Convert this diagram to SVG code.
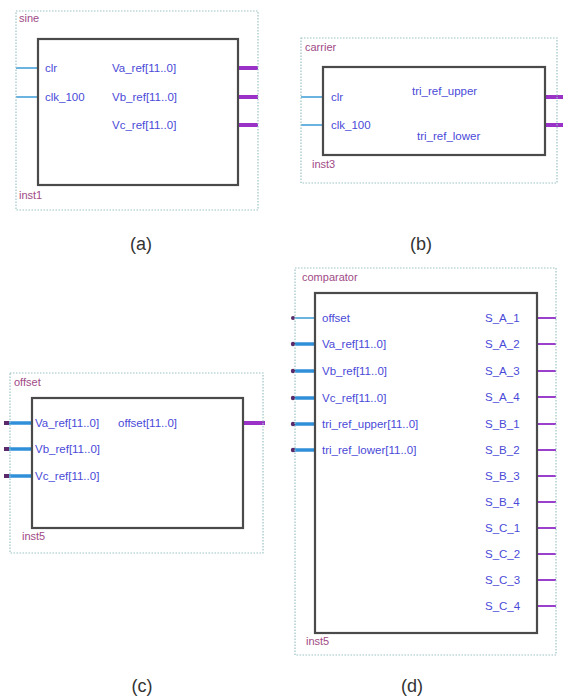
<svg xmlns="http://www.w3.org/2000/svg" width="565" height="696" viewBox="0 0 565 696">
<style>
.frame{fill:none;stroke:#9cc4c4;stroke-width:1.2;stroke-dasharray:1.5 1.5}
.box{fill:#fff;stroke:#4a4a4a;stroke-width:2.2}
.title{font-family:"Liberation Sans",Arial,sans-serif;font-size:11px;fill:#a04a86}
.pin{font-family:"Liberation Sans",Arial,sans-serif;font-size:11.5px;fill:#4a4ad8}
.cap{font-family:"Liberation Sans",Arial,sans-serif;font-size:18px;fill:#333;text-anchor:middle}
.in{stroke:#3a9ad6;stroke-width:1.5}
.inbus{stroke:#2f8fd8;stroke-width:3.5}
.outbus{stroke:#9a32c8;stroke-width:4}
.out{stroke:#9a40cc;stroke-width:2}
.dot{fill:#5a2a6a}
</style>
<rect width="565" height="696" fill="#fff"/>

<g id="connectors">
  <!-- sine -->
  <line class="in" x1="16" y1="68" x2="38" y2="68"/>
  <line class="in" x1="16" y1="97" x2="38" y2="97"/>
  <line class="outbus" x1="236" y1="68" x2="258" y2="68"/>
  <line class="outbus" x1="236" y1="97" x2="258" y2="97"/>
  <line class="outbus" x1="236" y1="125" x2="258" y2="125"/>
  <!-- carrier -->
  <line class="in" x1="301" y1="97" x2="323" y2="97"/>
  <line class="in" x1="301" y1="125" x2="323" y2="125"/>
  <line class="outbus" x1="541" y1="97" x2="563" y2="97"/>
  <line class="outbus" x1="541" y1="125" x2="563" y2="125"/>
  <!-- offset -->
  <line class="inbus" x1="6" y1="423" x2="32" y2="423"/>
  <line class="inbus" x1="6" y1="449" x2="32" y2="449"/>
  <line class="inbus" x1="6" y1="476" x2="32" y2="476"/>
  <rect class="dot" x="4" y="421" width="5" height="4"/>
  <rect class="dot" x="4" y="447" width="5" height="4"/>
  <rect class="dot" x="4" y="474" width="5" height="4"/>
  <line class="outbus" x1="242" y1="423" x2="265" y2="423"/>
  <!-- comparator -->
  <line class="in" x1="294" y1="318" x2="315" y2="318"/>
  <line class="inbus" x1="294" y1="344" x2="315" y2="344"/>
  <line class="inbus" x1="294" y1="371" x2="315" y2="371"/>
  <line class="inbus" x1="294" y1="398" x2="315" y2="398"/>
  <line class="inbus" x1="294" y1="424" x2="315" y2="424"/>
  <line class="inbus" x1="294" y1="450" x2="315" y2="450"/>
  <circle class="dot" cx="293" cy="318" r="2"/>
  <circle class="dot" cx="293" cy="344" r="2.2"/>
  <circle class="dot" cx="293" cy="371" r="2.2"/>
  <circle class="dot" cx="293" cy="398" r="2.2"/>
  <circle class="dot" cx="293" cy="424" r="2.2"/>
  <circle class="dot" cx="293" cy="450" r="2.2"/>
  <line class="out" x1="537" y1="318" x2="556" y2="318"/>
  <line class="out" x1="537" y1="344" x2="556" y2="344"/>
  <line class="out" x1="537" y1="371" x2="556" y2="371"/>
  <line class="out" x1="537" y1="397" x2="556" y2="397"/>
  <line class="out" x1="537" y1="424" x2="556" y2="424"/>
  <line class="out" x1="537" y1="450" x2="556" y2="450"/>
  <line class="out" x1="537" y1="476" x2="556" y2="476"/>
  <line class="out" x1="537" y1="502" x2="556" y2="502"/>
  <line class="out" x1="537" y1="528" x2="556" y2="528"/>
  <line class="out" x1="537" y1="554" x2="556" y2="554"/>
  <line class="out" x1="537" y1="580" x2="556" y2="580"/>
  <line class="out" x1="537" y1="606" x2="556" y2="606"/>
</g>

<g id="sine">
  <rect class="frame" x="16" y="11" width="242" height="199"/>
  <text class="title" x="19" y="22">sine</text>
  <rect class="box" x="38" y="39" width="200" height="146"/>
  <text class="pin" x="45" y="72">clr</text>
  <text class="pin" x="45" y="101">clk_100</text>
  <text class="pin" x="112" y="72">Va_ref[11..0]</text>
  <text class="pin" x="112" y="101">Vb_ref[11..0]</text>
  <text class="pin" x="112" y="129">Vc_ref[11..0]</text>
  <text class="title" x="19" y="199">inst1</text>
</g>

<g id="carrier">
  <rect class="frame" x="301" y="38" width="256" height="145"/>
  <text class="title" x="305" y="51">carrier</text>
  <rect class="box" x="323" y="67" width="222" height="88"/>
  <text class="pin" x="331" y="101">clr</text>
  <text class="pin" x="331" y="129">clk_100</text>
  <text class="pin" x="412" y="95">tri_ref_upper</text>
  <text class="pin" x="417" y="140">tri_ref_lower</text>
  <text class="title" x="312" y="168">inst3</text>
</g>

<g id="offset">
  <rect class="frame" x="10" y="373" width="253" height="180"/>
  <text class="title" x="14" y="386">offset</text>
  <rect class="box" x="32" y="398" width="211" height="130"/>
  <text class="pin" x="35" y="427">Va_ref[11..0]</text>
  <text class="pin" x="35" y="453">Vb_ref[11..0]</text>
  <text class="pin" x="35" y="480">Vc_ref[11..0]</text>
  <text class="pin" x="118" y="427">offset[11..0]</text>
  <text class="title" x="22" y="540">inst5</text>
</g>

<g id="comparator">
  <rect class="frame" x="295" y="268" width="261" height="387"/>
  <text class="title" x="302" y="281">comparator</text>
  <rect class="box" x="315" y="293" width="222" height="340"/>
  <text class="pin" x="322" y="322">offset</text>
  <text class="pin" x="322" y="348">Va_ref[11..0]</text>
  <text class="pin" x="322" y="375">Vb_ref[11..0]</text>
  <text class="pin" x="322" y="402">Vc_ref[11..0]</text>
  <text class="pin" x="322" y="428">tri_ref_upper[11..0]</text>
  <text class="pin" x="322" y="454">tri_ref_lower[11..0]</text>
  <text class="pin" x="485" y="322">S_A_1</text>
  <text class="pin" x="485" y="348">S_A_2</text>
  <text class="pin" x="485" y="375">S_A_3</text>
  <text class="pin" x="485" y="401">S_A_4</text>
  <text class="pin" x="485" y="428">S_B_1</text>
  <text class="pin" x="485" y="454">S_B_2</text>
  <text class="pin" x="485" y="480">S_B_3</text>
  <text class="pin" x="485" y="506">S_B_4</text>
  <text class="pin" x="485" y="532">S_C_1</text>
  <text class="pin" x="485" y="558">S_C_2</text>
  <text class="pin" x="485" y="584">S_C_3</text>
  <text class="pin" x="485" y="610">S_C_4</text>
  <text class="title" x="306" y="645">inst5</text>
</g>

<g id="captions">
  <text class="cap" x="141" y="250">(a)</text>
  <text class="cap" x="421" y="250">(b)</text>
  <text class="cap" x="142" y="692">(c)</text>
  <text class="cap" x="412" y="692">(d)</text>
</g>
</svg>
